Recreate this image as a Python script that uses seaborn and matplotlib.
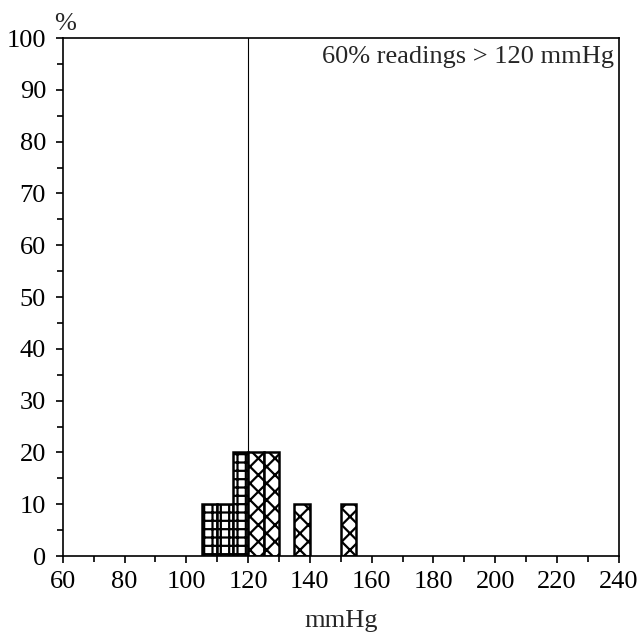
import matplotlib
matplotlib.use('Agg')
import matplotlib.pyplot as plt
import seaborn as sns
import pandas as pd
import numpy as np

# bin left edges (mmHg) and share of readings (%)
bin_left = [105, 110, 115, 120, 125, 135, 150]
percent = [10, 10, 20, 20, 20, 10, 10]
bin_width = 5
threshold = 120
note = '60% readings > 120 mmHg'

sns.set_style('ticks')
plt.rcParams['font.family'] = ['Liberation Serif', 'DejaVu Serif']
plt.rcParams['hatch.linewidth'] = 1.6
plt.rcParams['hatch.color'] = 'black'

df = pd.DataFrame({'mmHg': np.array(bin_left) + bin_width / 2, 'pct': percent})

fig = plt.figure(figsize=(6.4, 6.35), dpi=100)
ax = fig.add_axes([0.098, 0.1244, 0.869, 0.8157])

sns.histplot(data=df, x='mmHg', weights='pct', binwidth=bin_width,
             binrange=(min(bin_left), max(bin_left) + bin_width),
             color='white', edgecolor='black', linewidth=1.8, alpha=1, ax=ax)

for p in list(ax.patches):
    if p.get_height() <= 0:
        p.remove()
        continue
    p.set_facecolor('white')
    p.set_hatch('++' if p.get_x() < threshold else 'xx')

ax.axvline(threshold, color='black', linewidth=0.8, zorder=0)

fs = 19
ax.set_xlim(60, 240)
ax.set_ylim(0, 100)
ax.set_xticks(np.arange(60, 241, 20))
ax.set_xticks(np.arange(60, 241, 10), minor=True)
ax.set_yticks(np.arange(0, 101, 10))
ax.set_yticks(np.arange(0, 101, 5), minor=True)
ax.tick_params(which='both', direction='out', width=1.2, colors='black', labelsize=fs)
ax.tick_params(which='major', length=5)
ax.tick_params(which='minor', length=4)
ax.tick_params(axis='x', which='major', pad=6)
ax.tick_params(axis='y', which='major', pad=7)
for s in ax.spines.values():
    s.set_visible(True)
    s.set_linewidth(1.2)
    s.set_color('black')

ax.set_xlabel('mmHg', fontsize=fs, labelpad=12)
ax.set_ylabel('')
ax.text(0.004, 1.005, '%', transform=ax.transAxes, fontsize=fs, ha='center', va='bottom')
ax.text(0.991, 0.985, note, transform=ax.transAxes, fontsize=fs, ha='right', va='top')

fig.savefig('out.png', dpi=100)
